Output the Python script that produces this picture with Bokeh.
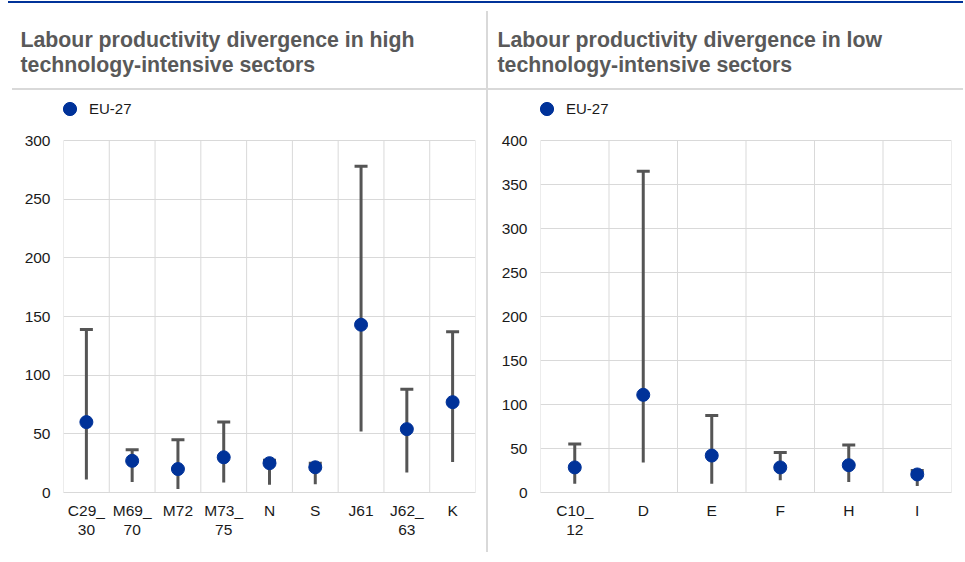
from bokeh.plotting import figure
from bokeh.models import (ColumnDataSource, Range1d, FixedTicker, Whisker, TeeHead,
                          Legend, LegendItem)
from bokeh.core.properties import value
from bokeh.layouts import row, column
from bokeh.embed import file_html
from bokeh.resources import INLINE

FONT = "Liberation Sans"
BLUE = "#003299"
GRID = "#d9d9d9"
BAR = "#555555"
TITLE_C = "#595959"
TEXT_C = "#1a1a1a"

# ---- data: high technology-intensive sectors ----
hi_cats = ["C29_30", "M69_70", "M72", "M73_75", "N", "S", "J61", "J62_63", "K"]
hi_labels = ["C29_\n30", "M69_\n70", "M72", "M73_\n75", "N", "S", "J61", "J62_\n63", "K"]
hi_eu = [60, 27, 20, 30, 25, 21.5, 143, 54, 77]
hi_max = [139, 36.5, 45, 60, 27.5, 25, 278, 88, 137]
hi_min = [11, 9, 3, 8.5, 6.5, 7, 52, 17, 26]
hi_yticks = [0, 50, 100, 150, 200, 250, 300]

# ---- data: low technology-intensive sectors ----
lo_cats = ["C10_12", "D", "E", "F", "H", "I"]
lo_labels = ["C10_\n12", "D", "E", "F", "H", "I"]
lo_eu = [28.5, 111, 42, 28.5, 31, 20.5]
lo_max = [55, 365, 87.5, 45.5, 54, 25]
lo_min = [10, 34, 10, 14, 12, 7.5]
lo_yticks = [0, 50, 100, 150, 200, 250, 300, 350, 400]

series_name = "EU-27"
hi_title = ["Labour productivity divergence in high", "technology-intensive sectors"]
lo_title = ["Labour productivity divergence in low", "technology-intensive sectors"]

# ---- layout constants (page pixels) ----
PAGE_W = 963
HEAD_H = 90
FIG_H = 470          # chart figures start at page y = HEAD_H
FRAME_TOP = 95       # page y of frame top (holds the legend)
TOP_TICK_Y = 140     # page y of the highest tick
FRAME_BOTTOM = 492   # page y of the zero line
TICK_FONT = "15.5px"


# ---------------- header with the two titles ----------------
head = figure(width=PAGE_W, height=HEAD_H, x_range=Range1d(0, PAGE_W),
              y_range=Range1d(HEAD_H, 0), output_backend="svg",
              toolbar_location=None, x_axis_location=None, y_axis_location=None,
              min_border=0)
head.grid.visible = False
head.outline_line_color = None
head.background_fill_alpha = 0
head.border_fill_alpha = 0
title_src = ColumnDataSource(dict(
    x=[20, 20, 497, 497],
    y=[39.5, 64.5, 39.5, 64.5],
    text=hi_title + lo_title,
))
head.text("x", "y", text="text", source=title_src, text_font=value(FONT),
          text_font_size="21.3px", text_font_style="bold", text_color=TITLE_C,
          text_baseline="alphabetic", text_align="left")


def make_panel(cats, labels, eu, vmin, vmax, yticks, fig_left, width,
               frame_left, frame_right):
    n = len(cats)
    ymax = yticks[-1]
    # extend range above the top tick so the legend sits inside the frame
    y_end = ymax * (FRAME_BOTTOM - FRAME_TOP) / (FRAME_BOTTOM - TOP_TICK_Y)
    p = figure(width=width, height=FIG_H,
               x_range=Range1d(0, n), y_range=Range1d(yticks[0], y_end),
               output_backend="svg", toolbar_location=None,
               min_border_left=frame_left - fig_left,
               min_border_right=fig_left + width - frame_right,
               min_border_top=FRAME_TOP - HEAD_H,
               min_border_bottom=HEAD_H + FIG_H - FRAME_BOTTOM)
    p.outline_line_color = None
    p.background_fill_alpha = 0
    p.border_fill_alpha = 0

    centers = [i + 0.5 for i in range(n)]
    src = ColumnDataSource(dict(x=centers, cat=cats, eu=eu, lo=vmin, hi=vmax))

    # axes
    p.xaxis.ticker = FixedTicker(ticks=centers)
    p.xaxis.major_label_overrides = {c: lab for c, lab in zip(centers, labels)}
    p.xaxis.axis_line_color = GRID
    p.xaxis.major_label_standoff = 9
    p.xaxis.major_label_text_line_height = 1.12
    p.yaxis.ticker = FixedTicker(ticks=yticks)
    p.yaxis.axis_line_color = None
    p.yaxis.major_label_standoff = 13
    for ax in (p.xaxis, p.yaxis):
        ax.major_tick_line_color = None
        ax.minor_tick_line_color = None
        ax.major_tick_out = 0
        ax.major_tick_in = 0
        ax.minor_tick_out = 0
        ax.major_label_text_font = FONT
        ax.major_label_text_font_size = TICK_FONT
        ax.major_label_text_color = TEXT_C

    # grid: horizontal at ticks, vertical at category boundaries (up to top tick)
    p.xgrid.visible = False
    p.ygrid.grid_line_color = GRID
    bounds = list(range(n + 1))
    p.segment(x0=bounds, y0=[yticks[0]] * len(bounds), x1=bounds,
              y1=[ymax] * len(bounds), line_color=GRID, line_width=1)

    # range whiskers (upper cap only)
    w = Whisker(source=src, base="x", lower="lo", upper="hi", dimension="height",
                line_color=BAR, line_width=3,
                upper_head=TeeHead(size=13, line_color=BAR, line_width=3),
                lower_head=None)
    p.add_layout(w)

    r = p.scatter("x", "eu", source=src, size=13, fill_color=BLUE, line_color=BLUE)

    # legend glyph box of 33px -> marker of ~13px
    legend = Legend(items=[LegendItem(label=series_name, renderers=[r])],
                    location=(-10, FRAME_BOTTOM - 124.5),
                    padding=0, margin=0, spacing=0,
                    glyph_width=33, glyph_height=33, label_height=33,
                    label_standoff=3, border_line_color=None,
                    background_fill_alpha=0,
                    label_text_font=FONT, label_text_font_size="15px",
                    label_text_color=TEXT_C)
    p.add_layout(legend)
    return p


p1 = make_panel(hi_cats, hi_labels, hi_eu, hi_min, hi_max, hi_yticks,
                fig_left=0, width=488, frame_left=63, frame_right=475)
p2 = make_panel(lo_cats, lo_labels, lo_eu, lo_min, lo_max, lo_yticks,
                fig_left=488, width=475, frame_left=540, frame_right=951)

layout = column(head, row(p1, p2))
# decorative rules of the page: blue top rule, grey rule under titles, grey divider
layout.styles = {
    "background-image": ("linear-gradient(#003299,#003299),"
                         "linear-gradient(#d9d9d9,#d9d9d9),"
                         "linear-gradient(#d9d9d9,#d9d9d9)"),
    "background-size": "955px 2px, 951px 2px, 2px 541px",
    "background-position": "8px 1px, 12px 88px, 486px 11px",
    "background-repeat": "no-repeat",
}
open("out.html", "w").write(file_html(layout, INLINE))
